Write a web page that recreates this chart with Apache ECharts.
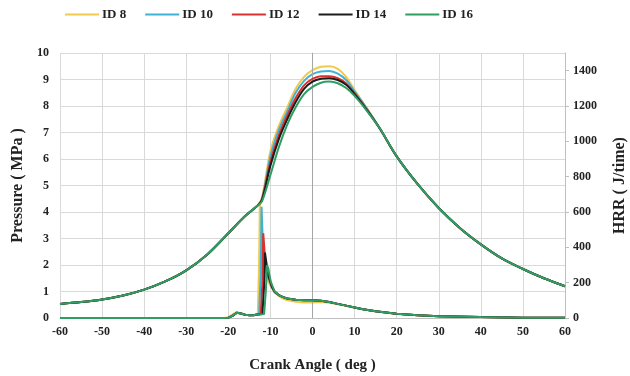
<!DOCTYPE html>
<html>
<head>
<meta charset="utf-8">
<script src="https://cdn.jsdelivr.net/npm/echarts@6/dist/echarts.min.js"></script>
<style>
  html, body { margin: 0; padding: 0; background: #fff; }
  #chart { width: 630px; height: 376px; }
</style>
</head>
<body>
<div id="chart"></div>
<script>
// Legend names and colours
const ids = ['ID 8', 'ID 10', 'ID 12', 'ID 14', 'ID 16'];
const colors = ['#f2c94c', '#3fb3d6', '#d8322e', '#1c1c1c', '#2e9e63'];

// Cylinder pressure (MPa) vs crank angle (deg)
const pAngle = [-60, -55, -50, -45, -40, -35, -30, -25, -20, -16, -13, -12, -10, -8, -6, -4, -2, 0, 2, 4, 6, 8, 10, 13, 16, 20, 25, 30, 35, 40, 45, 50, 55, 60];
const pComp = [0.53, 0.6, 0.7, 0.85, 1.07, 1.38, 1.8, 2.4, 3.2, 3.85, 4.25];
const pExp = [7.15, 6.1, 5.05, 4.15, 3.4, 2.78, 2.25, 1.85, 1.5, 1.2];
const pComb8 = [4.55, 6.3, 7.25, 7.95, 8.65, 9.1, 9.35, 9.48, 9.5, 9.4, 9.1, 8.6, 7.9];
const pComb10 = [4.5, 6.1, 7.1, 7.8, 8.5, 8.95, 9.2, 9.3, 9.32, 9.22, 8.98, 8.55, 7.88];
const pComb12 = [4.48, 5.9, 6.9, 7.65, 8.3, 8.78, 9.02, 9.12, 9.12, 9.05, 8.85, 8.48, 7.85];
const pComb14 = [4.45, 5.75, 6.75, 7.5, 8.15, 8.65, 8.92, 9.03, 9.05, 8.98, 8.8, 8.45, 7.83];
const pComb16 = [4.4, 5.4, 6.45, 7.3, 7.95, 8.45, 8.72, 8.88, 8.92, 8.86, 8.68, 8.38, 7.8];

// Heat release rate (J/time) vs crank angle (deg)
const hPreAngle = [-60, -21, -20, -19, -18, -17, -16, -15, -14, -13.5];
const hPre = [0, 0, 2, 12, 30, 25, 18, 16, 16, 18];
const hPre8 = [0, 0, 5, 20, 35, 26, 18, 16, 17, 20];
const hSpikeAngle8 = [-13.0, -12.7, -12.5, -12.2, -11.8, -11.2, -10.5, -9.7, -9];
const hSpike8 = [22, 300, 660, 450, 300, 240, 205, 170, 145];
const hSpikeAngle10 = [-12.7, -12.3, -12.1, -11.8, -11.4, -10.9, -10.4, -9.7, -9];
const hSpike10 = [22, 250, 630, 420, 300, 250, 220, 175, 145];
const hSpikeAngle12 = [-12.3, -11.9, -11.7, -11.4, -11.1, -10.7, -10.2, -9.7, -9];
const hSpike12 = [22, 200, 480, 380, 300, 250, 215, 178, 148];
const hSpikeAngle14 = [-11.9, -11.5, -11.3, -11.0, -10.7, -10.4, -10.0, -9.6, -9];
const hSpike14 = [22, 180, 370, 320, 270, 235, 205, 175, 150];
const hSpikeAngle16 = [-11.5, -11.1, -10.8, -10.5, -10.2, -9.9, -9.5, -9];
const hSpike16 = [22, 150, 300, 280, 240, 205, 180, 150];
const hTailAngle = [-8, -7, -6, -4, -2, 0, 2, 4, 6, 8, 10, 12, 15, 20, 25, 30, 40, 50, 60];
const hTail = [130, 118, 110, 103, 100, 100, 97, 90, 80, 70, 60, 50, 38, 24, 15, 10, 5, 2, 1];
const hTail8 = [125, 110, 100, 92, 88, 88, 90, 86, 78, 68, 58, 49, 37, 23, 15, 10, 5, 2, 1];

const zip = (xs, ys) => xs.map((x, i) => [x, ys[i]]);

const pressure = [pComb8, pComb10, pComb12, pComb14, pComb16].map((c) =>
  zip(pAngle, pComp.concat(c, pExp))
);
const hrr = [
  zip(hPreAngle.concat(hSpikeAngle8, hTailAngle), hPre8.concat(hSpike8, hTail8)),
  zip(hPreAngle.concat(hSpikeAngle10, hTailAngle), hPre.concat(hSpike10, hTail)),
  zip(hPreAngle.concat(hSpikeAngle12, hTailAngle), hPre.concat(hSpike12, hTail)),
  zip(hPreAngle.concat(hSpikeAngle14, hTailAngle), hPre.concat(hSpike14, hTail)),
  zip(hPreAngle.concat(hSpikeAngle16, hTailAngle), hPre.concat(hSpike16, hTail)),
];

const font = 'Liberation Serif';
const labelStyle = { fontFamily: font, fontWeight: 'bold', fontSize: 12, color: '#222' };
const nameStyle = { fontFamily: font, fontWeight: 'bold', fontSize: 16, color: '#222' };

const chart = echarts.init(document.getElementById('chart'));

const series = [];
ids.forEach((name, i) => {
  series.push({
    type: 'line',
    name,
    data: pressure[i],
    yAxisIndex: 0,
    smooth: 0.35,
    showSymbol: false,
    color: colors[i],
    lineStyle: { width: 2, color: colors[i] },
    z: 3 + i,
    markLine: i === 0 ? {
      silent: true,
      symbol: 'none',
      label: { show: false },
      lineStyle: { color: '#a6a6a6', width: 1, type: 'solid' },
      data: [{ xAxis: 0 }],
    } : undefined,
  });
});
ids.forEach((name, i) => {
  series.push({
    type: 'line',
    name,
    data: hrr[i],
    yAxisIndex: 1,
    smooth: false,
    showSymbol: false,
    color: colors[i],
    lineStyle: { width: 2, color: colors[i] },
    z: 3 + i,
  });
});

chart.setOption({
  animation: false,
  textStyle: { fontFamily: font },
  legend: {
    data: ids,
    top: 3,
    left: 60,
    icon: 'rect',
    itemWidth: 34,
    itemHeight: 2,
    itemGap: 19,
    textStyle: { fontFamily: font, fontWeight: 'bold', fontSize: 13, color: '#222', padding: [0, 0, 0, -2] },
  },
  grid: { left: 60, right: 65, top: 53, bottom: 58, outerBoundsMode: 'none' },
  xAxis: {
    type: 'value',
    min: -60,
    max: 60,
    interval: 10,
    name: 'Crank Angle ( deg )',
    nameLocation: 'middle',
    nameGap: 40,
    nameTextStyle: { ...nameStyle, fontSize: 15 },
    axisLine: { show: true, onZero: false, lineStyle: { color: '#bfbfbf' } },
    axisTick: { show: false },
    axisLabel: { ...labelStyle, margin: 8 },
    splitLine: { show: true, lineStyle: { color: '#d9d9d9' } },
  },
  yAxis: [
    {
      type: 'value',
      min: 0,
      max: 10,
      interval: 1,
      name: 'Pressure ( MPa )',
      nameLocation: 'middle',
      nameGap: 33,
      nameTextStyle: nameStyle,
      axisLine: { show: true, lineStyle: { color: '#d9d9d9' } },
      axisTick: { show: false },
      axisLabel: { ...labelStyle, margin: 11 },
      splitLine: { show: true, lineStyle: { color: '#d9d9d9' } },
    },
    {
      type: 'value',
      min: 0,
      max: 1500,
      interval: 200,
      position: 'right',
      name: 'HRR ( J/time)',
      nameLocation: 'middle',
      nameGap: 47,
      nameRotate: 90,
      nameTextStyle: nameStyle,
      axisLine: { show: true, lineStyle: { color: '#bfbfbf' } },
      axisTick: { show: true, length: 4, lineStyle: { color: '#bfbfbf' } },
      axisLabel: { ...labelStyle, margin: 8, showMaxLabel: false, formatter: (v) => String(v) },
      splitLine: { show: false },
    },
  ],
  series,
});
</script>
</body>
</html>
